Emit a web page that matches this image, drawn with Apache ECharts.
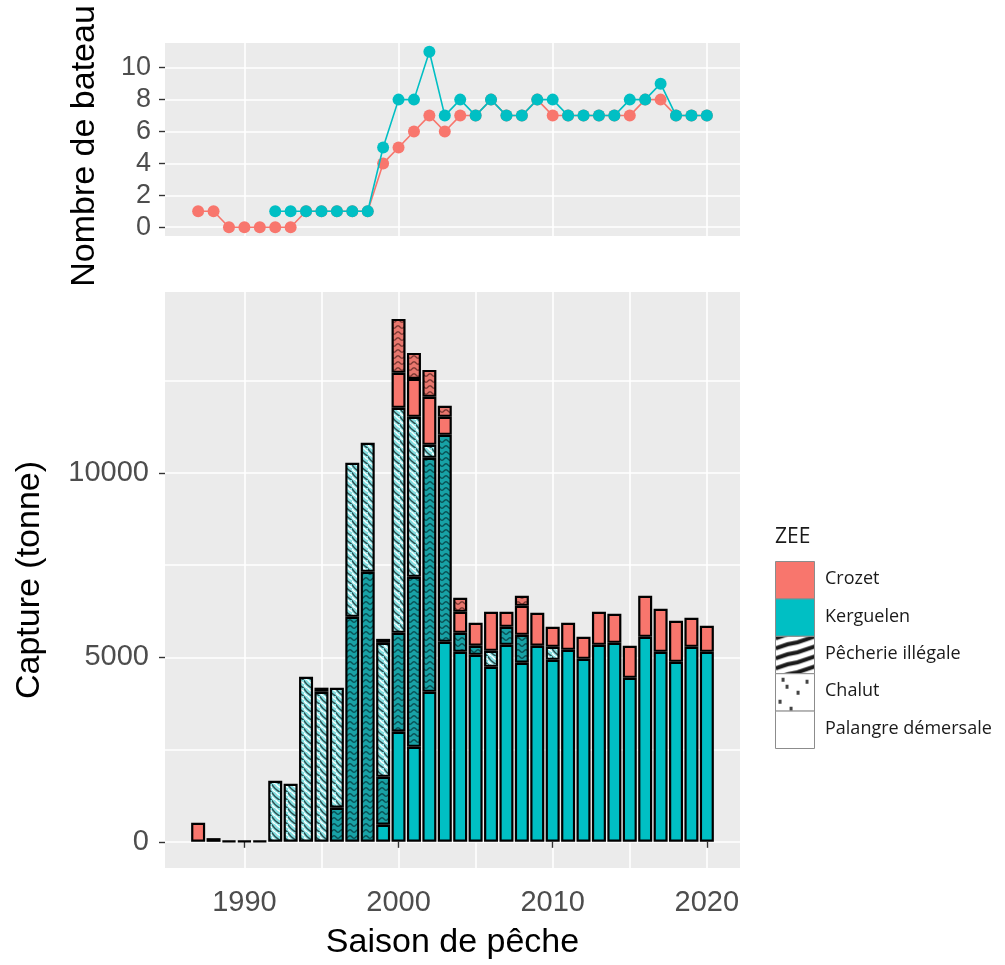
<!DOCTYPE html>
<html>
<head>
<meta charset="utf-8">
<script src="https://cdn.jsdelivr.net/npm/echarts@6/dist/echarts.min.js"></script>
<style>
  html, body { margin: 0; padding: 0; background: #fff; }
  #chart { width: 1005px; height: 965px; }
</style>
</head>
<body>
<div id="chart"></div>
<script>
// fishing seasons shown in the bar panel
const seasons = [1987, 1988, 1989, 1990, 1991, 1992, 1993, 1994, 1995, 1996, 1997, 1998, 1999, 2000,
  2001, 2002, 2003, 2004, 2005, 2006, 2007, 2008, 2009, 2010, 2011, 2012, 2013, 2014, 2015, 2016,
  2017, 2018, 2019, 2020];

// catches (tonnes), one value per season, null = no segment
const kerguelenPalangre = [null, null, null, null, null, null, null, null, null, null, null, null,
  461, 2983, 2576, 4067, 5423, 5152, 5070, 4745, 5342, 4854, 5315, 4935, 5206, 4962, 5342, 5396,
  4447, 5559, 5152, 4881, 5287, 5152];
const kerguelenIllegale = [null, null, null, null, null, null, null, null, null,
  922, 6101, 7321, 1301, 2684, 4610, 6345, 5613, 515, 245, null, 488, 759,
  null, null, null, null, null, null, null, null, null, null, null, null];
const kerguelenChalut = [null, null, null, null, null, 1654, 1573, 4474, 4070, 3254, 4176, 3498,
  3634, 6101, 4338, 353, null, null, null, 434, null, null, null, 352,
  null, null, null, null, null, null, null, null, null, null];
const crozetPalangre = [515, 100, 20, 20, 20, null, null, null, 110, null, null, null,
  108, 949, 1030, 1301, 488, 569, 623, 1057, 406, 786, 894, 543, 732, 597, 894, 786,
  868, 1111, 1166, 1112, 787, 705];
const crozetIllegale = [null, null, null, null, null, null, null, null, null, null, null, null, null,
  1464, 705, 732, 298, 380, null, null, null, 271,
  null, null, null, null, null, null, null, null, null, null, null, null];

// number of boats
const crozetYears = [1987, 1988, 1989, 1990, 1991, 1992, 1993, 1994, 1995, 1996, 1997, 1998, 1999,
  2000, 2001, 2002, 2003, 2004, 2005, 2006, 2007, 2008, 2009, 2010, 2011, 2012, 2013, 2014, 2015,
  2016, 2017, 2018, 2019, 2020];
const crozetBoats = [1, 1, 0, 0, 0, 0, 0, 1, 1, 1, 1, 1, 4, 5, 6, 7, 6, 7, 7, 8, 7, 7, 8, 7, 7, 7,
  7, 7, 7, 8, 8, 7, 7, 7];
const kerguelenYears = [1992, 1993, 1994, 1995, 1996, 1997, 1998, 1999, 2000, 2001, 2002, 2003,
  2004, 2005, 2006, 2007, 2008, 2009, 2010, 2011, 2012, 2013, 2014, 2015, 2016, 2017, 2018, 2019, 2020];
const kerguelenBoats = [1, 1, 1, 1, 1, 1, 1, 5, 8, 8, 11, 7, 8, 7, 8, 7, 7, 8, 8, 7, 7, 7, 7, 8, 8,
  9, 7, 7, 7];

// ticks
const yearTicks = [1990, 2000, 2010, 2020];
const yearGrid = [1990, 1995, 2000, 2005, 2010, 2015, 2020];
const boatTicks = [0, 2, 4, 6, 8, 10];
const catchTicks = [0, 5000, 10000];
const catchGrid = [0, 2500, 5000, 7500, 10000, 12500];

const RED = '#F8766D';
const TEAL = '#00BFC4';
const TXT = '#4D4D4D';
const FONT = '"Liberation Sans", Arial, sans-serif';

function pattern(w, h, bg, draw) {
  const c = document.createElement('canvas');
  c.width = w; c.height = h;
  const ctx = c.getContext('2d');
  if (bg) { ctx.fillStyle = bg; ctx.fillRect(0, 0, w, h); }
  draw(ctx);
  return { image: c, repeat: 'repeat' };
}

function waves(ctx, w, h, color, lw, amp) {
  ctx.strokeStyle = color;
  ctx.lineWidth = lw;
  [-h, 0, h].forEach(off => {
    ctx.beginPath();
    for (let x = -1; x <= w + 1; x += 0.5) {
      const y = off + h / 2 + amp * Math.sin(2 * Math.PI * x / w);
      if (x === -1) ctx.moveTo(x, y); else ctx.lineTo(x, y);
    }
    ctx.stroke();
  });
}

const illegalTeal = pattern(8, 6, '#18A2A6', ctx => waves(ctx, 8, 6, '#0A4F52', 1.4, 1.2));
const illegalRed = pattern(8, 6, '#E9776E', ctx => waves(ctx, 8, 6, '#7A3631', 1.3, 1.2));
const chalutTeal = pattern(8, 8, '#86E0E2', ctx => {
  ctx.lineWidth = 1.4;
  ctx.strokeStyle = '#2E4F51';
  ctx.beginPath(); ctx.moveTo(-1, -1); ctx.quadraticCurveTo(2, 5, 9, 9); ctx.stroke();
  ctx.strokeStyle = '#FFFFFF';
  ctx.beginPath(); ctx.moveTo(3, -1); ctx.quadraticCurveTo(6, 3, 9, 4); ctx.stroke();
  ctx.beginPath(); ctx.moveTo(-1, 4); ctx.quadraticCurveTo(2, 7, 4, 9); ctx.stroke();
});
const legendIllegal = pattern(40, 38, '#FFFFFF', ctx => {
  ctx.strokeStyle = '#1A1A1A'; ctx.lineWidth = 4;
  for (let k = -1; k < 5; k++) {
    ctx.beginPath();
    ctx.moveTo(0, k * 10 + 12);
    ctx.lineTo(12, k * 10 + 8);
    ctx.lineTo(22, k * 10 + 6);
    ctx.lineTo(40, k * 10);
    ctx.stroke();
  }
});
const legendChalut = pattern(40, 38, '#FFFFFF', ctx => {
  ctx.fillStyle = '#444';
  [[6, 4], [30, 6], [10, 11], [21, 17], [3, 26], [14, 33]].forEach(p => ctx.fillRect(p[0], p[1], 3, 4));
});

function pairs(xs, ys) {
  return xs.map((x, i) => [x, ys[i] == null ? '-' : ys[i]]);
}
// value first so that the catch dimension is the one that gets stacked
function stackPairs(xs, ys) {
  return xs.map((x, i) => [ys[i] == null ? '-' : ys[i], x]);
}
const plain = v => String(v);

const chart = echarts.init(document.getElementById('chart'), null, { renderer: 'canvas' });

const gridLine = { show: true, lineStyle: { color: '#FFFFFF', width: 1.6 } };
const tickStyle = { lineStyle: { color: '#333333', width: 1.4 }, length: 6 };

function barSeries(name, values, color) {
  return {
    name: name,
    type: 'bar',
    xAxisIndex: 1,
    yAxisIndex: 1,
    stack: 'catch',
    barWidth: 14,
    encode: { x: 1, y: 0 },
    data: stackPairs(seasons, values),
    itemStyle: { color: color, borderColor: '#000000', borderWidth: 2.2 },
    emphasis: { disabled: true },
    animation: false
  };
}

function legendRow(i, label, fill) {
  const top = 561 + i * 37.4;
  return [
    { type: 'rect', left: 775, top: top, shape: { width: 39, height: 37.4 },
      style: { fill: fill, stroke: '#8C8C8C', lineWidth: 1 } },
    { type: 'text', left: 825, top: top + 9,
      style: { text: label, fill: '#1A1A1A', font: '18px "Open Sans", sans-serif' } }
  ];
}

const option = {
  backgroundColor: '#FFFFFF',
  animation: false,
  textStyle: { fontFamily: FONT },
  grid: [
    { left: 165, top: 43, width: 575, height: 193, show: true, backgroundColor: '#EBEBEB',
      borderWidth: 0, outerBoundsMode: 'none', containLabel: false },
    { left: 165, top: 292, width: 575, height: 576, show: true, backgroundColor: '#EBEBEB',
      borderWidth: 0, outerBoundsMode: 'none', containLabel: false }
  ],
  xAxis: [
    { gridIndex: 0, type: 'value', min: 1984.85, max: 2022.15,
      axisLine: { show: false }, axisTick: { show: false, customValues: yearTicks },
      axisLabel: { show: false }, splitLine: gridLine },
    { gridIndex: 1, type: 'value', min: 1984.85, max: 2022.15,
      axisLine: { show: false }, axisTick: { show: false, customValues: yearGrid },
      axisLabel: { show: false }, splitLine: gridLine },
    { gridIndex: 1, type: 'value', min: 1984.85, max: 2022.15, position: 'bottom',
      axisLine: { show: false },
      axisTick: Object.assign({ show: true, customValues: yearTicks }, tickStyle),
      axisLabel: { show: true, customValues: yearTicks, formatter: plain, color: TXT, fontSize: 29, margin: 20, fontFamily: FONT },
      splitLine: { show: false },
      name: 'Saison de pêche', nameLocation: 'middle', nameGap: 58,
      nameTextStyle: { color: '#000000', fontSize: 34, fontFamily: FONT } }
  ],
  yAxis: [
    { gridIndex: 0, type: 'value', min: -0.55, max: 11.55,
      axisLine: { show: false },
      axisTick: Object.assign({ show: true, customValues: boatTicks }, tickStyle),
      axisLabel: { show: true, customValues: boatTicks, formatter: plain, color: TXT, fontSize: 27, margin: 14, fontFamily: FONT },
      splitLine: gridLine },
    { gridIndex: 1, type: 'value', min: -710, max: 14910,
      axisLine: { show: false }, axisTick: { show: false, customValues: catchGrid },
      axisLabel: { show: false }, splitLine: gridLine },
    { gridIndex: 1, type: 'value', min: -710, max: 14910, position: 'left',
      axisLine: { show: false },
      axisTick: Object.assign({ show: true, customValues: catchTicks }, tickStyle),
      axisLabel: { show: true, customValues: catchTicks, formatter: plain, color: TXT, fontSize: 29, margin: 16, fontFamily: FONT },
      splitLine: { show: false },
      name: 'Capture (tonne)', nameLocation: 'middle', nameGap: 118, nameRotate: 90,
      nameTextStyle: { color: '#000000', fontSize: 34, fontFamily: FONT } }
  ],
  series: [
    {
      name: 'Crozet', type: 'line', xAxisIndex: 0, yAxisIndex: 0,
      data: pairs(crozetYears, crozetBoats),
      symbol: 'circle', symbolSize: 12,
      lineStyle: { color: RED, width: 1.6 }, itemStyle: { color: RED },
      emphasis: { disabled: true }, z: 3
    },
    {
      name: 'Kerguelen', type: 'line', xAxisIndex: 0, yAxisIndex: 0,
      data: pairs(kerguelenYears, kerguelenBoats),
      symbol: 'circle', symbolSize: 12,
      lineStyle: { color: TEAL, width: 1.6 }, itemStyle: { color: TEAL },
      emphasis: { disabled: true }, z: 4
    },
    barSeries('Kerguelen - Palangre démersale', kerguelenPalangre, TEAL),
    barSeries('Kerguelen - Pêcherie illégale', kerguelenIllegale, illegalTeal),
    barSeries('Kerguelen - Chalut', kerguelenChalut, chalutTeal),
    barSeries('Crozet - Palangre démersale', crozetPalangre, RED),
    barSeries('Crozet - Pêcherie illégale', crozetIllegale, illegalRed)
  ],
  graphic: [
    { type: 'text', x: 85, y: 146, rotation: Math.PI / 2,
      style: { text: 'Nombre de bateau', fill: '#000000', font: '34px "Liberation Sans", Arial, sans-serif',
        align: 'center', verticalAlign: 'middle' } },
    { type: 'text', left: 775, top: 527,
      style: { text: 'ZEE', fill: '#1A1A1A', font: '21px "Open Sans", sans-serif' } }
  ].concat(
    legendRow(0, 'Crozet', RED),
    legendRow(1, 'Kerguelen', TEAL),
    legendRow(2, 'Pêcherie illégale', legendIllegal),
    legendRow(3, 'Chalut', legendChalut),
    legendRow(4, 'Palangre démersale', '#FFFFFF')
  )
};

chart.setOption(option);
</script>
</body>
</html>
